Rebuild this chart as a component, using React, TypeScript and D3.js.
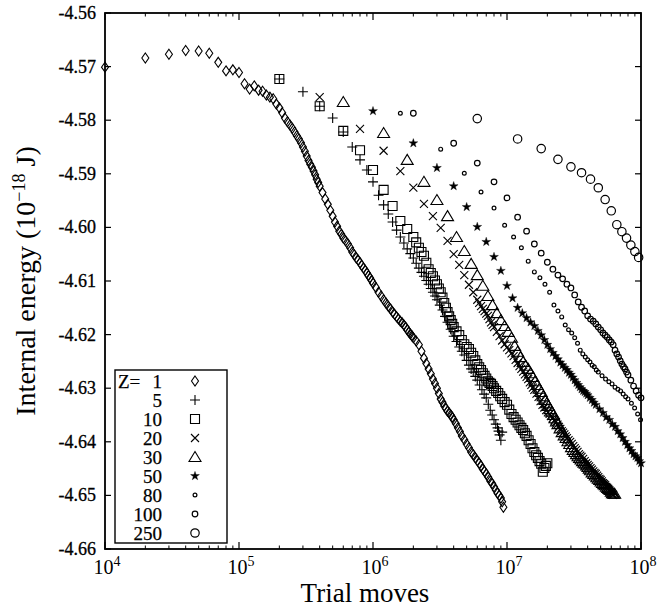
import React from "react";
import * as d3 from "d3";

// ---------- data (trial moves, internal energy in 1e-18 J) ----------
const zLabels = ["1", "5", "10", "20", "30", "50", "80", "100", "250"];
const xTickExps = [4, 5, 6, 7, 8];
const yTickValues = [-4.66, -4.65, -4.64, -4.63, -4.62, -4.61, -4.6, -4.59, -4.58, -4.57, -4.56];

const seriesZ1: [number, number][] = [
  [1e4, -4.5701], [2e4, -4.5684], [3e4, -4.5677], [4e4, -4.567], [5e4, -4.5671], [6e4, -4.5675],
  [7e4, -4.5692], [8e4, -4.5708], [9e4, -4.5706], [1e5, -4.5711], [1.1e5, -4.5732], [1.2e5, -4.5742],
  [1.3e5, -4.5736], [1.4e5, -4.5744], [1.5e5, -4.5746], [1.6e5, -4.5753], [1.7e5, -4.5757], [1.8e5, -4.576],
  [1.9e5, -4.577], [2e5, -4.5777], [2.2e5, -4.5796], [2.4e5, -4.5809], [2.6e5, -4.5822], [2.8e5, -4.5835],
  [3e5, -4.585], [3.2e5, -4.5867], [3.4e5, -4.5882], [3.6e5, -4.5895], [3.8e5, -4.591], [4e5, -4.5923],
  [4.4e5, -4.5947], [4.8e5, -4.5968], [5.2e5, -4.599], [5.6e5, -4.6007], [6e5, -4.602], [6.5e5, -4.6031],
  [7e5, -4.6046], [7.5e5, -4.6057], [8e5, -4.6066], [8.5e5, -4.6076], [9e5, -4.6085], [9.5e5, -4.6094],
  [1e6, -4.6104], [1.1e6, -4.6121], [1.2e6, -4.6135], [1.3e6, -4.6147], [1.4e6, -4.6158], [1.5e6, -4.6167],
  [1.6e6, -4.6175], [1.7e6, -4.6182], [1.8e6, -4.6191], [1.9e6, -4.6199], [2e6, -4.6206], [2.2e6, -4.6219],
  [2.4e6, -4.6244], [2.6e6, -4.6264], [2.8e6, -4.6283], [3e6, -4.63], [3.2e6, -4.632], [3.4e6, -4.6333],
  [3.6e6, -4.6343], [3.8e6, -4.635], [4e6, -4.6359], [4.3e6, -4.6374], [4.6e6, -4.6389], [5e6, -4.6404],
  [5.4e6, -4.6419], [5.8e6, -4.643], [6.2e6, -4.644], [6.6e6, -4.6451], [7e6, -4.646], [7.5e6, -4.6473],
  [8e6, -4.6484], [8.5e6, -4.6496], [9e6, -4.6505], [9.4e6, -4.6522],
  // denser readings along the band
  [2.1e5, -4.5786], [2.3e5, -4.5803], [2.5e5, -4.5815], [2.7e5, -4.5829], [2.9e5, -4.5842], [3.1e5, -4.5858],
  [3.3e5, -4.5875], [3.5e5, -4.5888], [3.7e5, -4.5902], [3.9e5, -4.5916], [4.2e5, -4.5935], [4.6e5, -4.5957],
  [5e5, -4.5979], [5.4e5, -4.5998], [5.8e5, -4.6013], [6.25e5, -4.6025], [6.75e5, -4.6038], [7.25e5, -4.6051],
  [7.75e5, -4.6061], [8.25e5, -4.6071], [8.75e5, -4.608], [9.25e5, -4.609], [9.75e5, -4.6099], [1.05e6, -4.6112],
  [1.15e6, -4.6128], [1.25e6, -4.6141], [1.35e6, -4.6152], [1.45e6, -4.6162], [1.55e6, -4.6171], [1.65e6, -4.6178],
  [1.75e6, -4.6186], [1.85e6, -4.6195], [1.95e6, -4.6202], [2.1e6, -4.6212], [2.3e6, -4.6231], [2.5e6, -4.6254],
  [2.7e6, -4.6273], [2.9e6, -4.6291], [3.1e6, -4.631], [3.3e6, -4.6326], [3.5e6, -4.6338], [3.7e6, -4.6346],
  [3.9e6, -4.6354], [4.15e6, -4.6366], [4.45e6, -4.6381], [4.8e6, -4.6396], [5.2e6, -4.6411], [5.6e6, -4.6424],
  [6e6, -4.6435], [6.4e6, -4.6445], [6.8e6, -4.6455], [7.25e6, -4.6466], [7.75e6, -4.6478], [8.25e6, -4.649],
  [8.75e6, -4.65], [9.2e6, -4.6512],
];

const seriesZ5: [number, number][] = [
  [2e5, -4.5723], [3e5, -4.5747], [4e5, -4.5774], [5e5, -4.5796], [6e5, -4.5822], [7e5, -4.585],
  [8e5, -4.5874], [9e5, -4.5893], [1e6, -4.5915], [1.1e6, -4.594], [1.2e6, -4.5958], [1.3e6, -4.5975],
  [1.4e6, -4.599], [1.5e6, -4.6005], [1.6e6, -4.6018], [1.8e6, -4.604], [2e6, -4.6057], [2.2e6, -4.6076],
  [2.4e6, -4.6091], [2.6e6, -4.6106], [2.8e6, -4.6121], [3e6, -4.6135], [3.3e6, -4.6154], [3.6e6, -4.6177],
  [4e6, -4.6203], [4.4e6, -4.6223], [4.8e6, -4.6238], [5.2e6, -4.6257], [5.6e6, -4.627], [6e6, -4.6285],
  [6.5e6, -4.6303], [7e6, -4.6318], [7.5e6, -4.6341], [8e6, -4.6359], [8.5e6, -4.6374], [8.8e6, -4.6387],
  [9e6, -4.6397], [9.2e6, -4.6382],
  [1.7e6, -4.6029], [1.9e6, -4.6049], [2.1e6, -4.6067], [2.3e6, -4.6084], [2.5e6, -4.6099], [2.7e6, -4.6114],
  [2.9e6, -4.6128], [3.15e6, -4.6145], [3.45e6, -4.6166], [3.8e6, -4.619], [4.2e6, -4.6213], [4.6e6, -4.6231],
  [5e6, -4.6248], [5.4e6, -4.6264], [5.8e6, -4.6278], [6.25e6, -4.6294], [6.75e6, -4.6311], [7.25e6, -4.633],
  [7.75e6, -4.635], [8.25e6, -4.6367], [8.65e6, -4.638],
];

const seriesZ10: [number, number][] = [
  [2e5, -4.5723], [4e5, -4.5774], [6e5, -4.582], [8e5, -4.5856], [1e6, -4.5893], [1.2e6, -4.593],
  [1.4e6, -4.596], [1.6e6, -4.5988], [1.8e6, -4.6003], [2e6, -4.6018], [2.2e6, -4.6038], [2.4e6, -4.6053],
  [2.6e6, -4.6078], [2.8e6, -4.6091], [3e6, -4.6106], [3.2e6, -4.6121], [3.4e6, -4.6141], [3.6e6, -4.6158],
  [3.8e6, -4.6173], [4e6, -4.6186], [4.4e6, -4.6201], [4.8e6, -4.6218], [5.2e6, -4.6227], [5.6e6, -4.624],
  [6e6, -4.6255], [6.4e6, -4.6266], [6.8e6, -4.6277], [7.2e6, -4.6287], [7.6e6, -4.6292], [8e6, -4.63],
  [8.6e6, -4.6309], [9.2e6, -4.632], [1e7, -4.6331], [1.08e7, -4.6348], [1.16e7, -4.6359], [1.24e7, -4.6369],
  [1.32e7, -4.6378], [1.4e7, -4.6389], [1.5e7, -4.6404], [1.6e7, -4.6419], [1.7e7, -4.643], [1.8e7, -4.6441],
  [1.9e7, -4.6449], [2e7, -4.644], [1.85e7, -4.6456],
  [2.1e6, -4.6028], [2.3e6, -4.6046], [2.5e6, -4.6066], [2.7e6, -4.6085], [2.9e6, -4.6099], [3.1e6, -4.6114],
  [3.3e6, -4.6131], [3.5e6, -4.615], [3.7e6, -4.6166], [3.9e6, -4.618], [4.2e6, -4.6194], [4.6e6, -4.621],
  [5e6, -4.6223], [5.4e6, -4.6234], [5.8e6, -4.6248], [6.2e6, -4.6261], [6.6e6, -4.6272], [7e6, -4.6282],
  [7.4e6, -4.629], [7.8e6, -4.6296], [8.3e6, -4.6305], [8.9e6, -4.6315], [9.6e6, -4.6326], [1.04e7, -4.634],
  [1.12e7, -4.6354], [1.2e7, -4.6364], [1.28e7, -4.6374], [1.36e7, -4.6384], [1.45e7, -4.6397], [1.55e7, -4.6412],
  [1.65e7, -4.6425], [1.75e7, -4.6436], [1.95e7, -4.6445],
];

const seriesZ20: [number, number][] = [
  [4e5, -4.5757], [8e5, -4.5816], [1.2e6, -4.5857], [1.6e6, -4.5895], [2e6, -4.5926], [2.4e6, -4.5956],
  [2.8e6, -4.5979], [3.2e6, -4.6001], [3.6e6, -4.6025], [4e6, -4.605], [4.4e6, -4.607], [4.8e6, -4.6089],
  [5.2e6, -4.6107], [5.6e6, -4.6121], [6e6, -4.6135], [6.4e6, -4.6147], [6.8e6, -4.6156], [7.2e6, -4.6165],
  [7.6e6, -4.6177], [8e6, -4.6186], [8.8e6, -4.6203], [9.6e6, -4.6218], [1.04e7, -4.6229], [1.12e7, -4.624],
  [1.2e7, -4.6253], [1.28e7, -4.6264], [1.36e7, -4.6274], [1.44e7, -4.6283], [1.52e7, -4.6294], [1.6e7, -4.6303],
  [1.72e7, -4.6316], [1.84e7, -4.6331], [1.96e7, -4.6341], [2.08e7, -4.6348], [2.2e7, -4.6356], [2.32e7, -4.6363],
  [2.44e7, -4.6372], [2.56e7, -4.638], [2.68e7, -4.6386], [2.8e7, -4.6393], [2.96e7, -4.64], [3.12e7, -4.6408],
  [3.28e7, -4.6415], [3.44e7, -4.6423], [3.6e7, -4.6428], [3.8e7, -4.6436], [4e7, -4.6443], [4.2e7, -4.6449],
  [4.4e7, -4.6455], [4.6e7, -4.646], [4.8e7, -4.6466], [5e7, -4.6471], [5.2e7, -4.6477], [5.4e7, -4.6481],
  [5.6e7, -4.6486], [5.8e7, -4.649], [6e7, -4.6496], [6.2e7, -4.6499],
  [6.2e6, -4.6141], [6.6e6, -4.6152], [7e6, -4.6161], [7.4e6, -4.6171], [7.8e6, -4.6182], [8.4e6, -4.6195],
  [9.2e6, -4.6211], [1e7, -4.6224], [1.08e7, -4.6235], [1.16e7, -4.6247], [1.24e7, -4.6259], [1.32e7, -4.6269],
  [1.4e7, -4.6279], [1.48e7, -4.6289], [1.56e7, -4.6299], [1.66e7, -4.631], [1.78e7, -4.6324], [1.9e7, -4.6336],
  [2.02e7, -4.6345], [2.14e7, -4.6352], [2.26e7, -4.636], [2.38e7, -4.6368], [2.5e7, -4.6376], [2.62e7, -4.6383],
  [2.74e7, -4.639], [2.88e7, -4.6397], [3.04e7, -4.6404], [3.2e7, -4.6412], [3.36e7, -4.6419], [3.52e7, -4.6426],
  [3.7e7, -4.6432], [3.9e7, -4.644], [4.1e7, -4.6446], [4.3e7, -4.6452], [4.5e7, -4.6458], [4.7e7, -4.6463],
  [4.9e7, -4.6469], [5.1e7, -4.6474], [5.3e7, -4.6479], [5.5e7, -4.6484], [5.7e7, -4.6488], [5.9e7, -4.6493],
  [6.1e7, -4.6498],
];

const seriesZ30: [number, number][] = [
  [6e5, -4.5766], [1.2e6, -4.5824], [1.8e6, -4.5874], [2.4e6, -4.5915], [3e6, -4.5949], [3.6e6, -4.5979],
  [4.2e6, -4.6018], [4.8e6, -4.6044], [5.4e6, -4.6068], [6e6, -4.6089], [6.6e6, -4.6109], [7.2e6, -4.6128],
  [7.8e6, -4.6145], [8.4e6, -4.616], [9e6, -4.6173], [9.6e6, -4.6184], [1.02e7, -4.6195], [1.08e7, -4.6206],
  [1.14e7, -4.6221], [1.2e7, -4.6232], [1.32e7, -4.6251], [1.44e7, -4.6264], [1.56e7, -4.6279], [1.68e7, -4.6294],
  [1.8e7, -4.6307], [1.92e7, -4.6322], [2.04e7, -4.6333], [2.16e7, -4.6344], [2.28e7, -4.6356], [2.4e7, -4.6367],
  [2.58e7, -4.6382], [2.76e7, -4.6393], [2.94e7, -4.6404], [3.12e7, -4.6415], [3.3e7, -4.6423], [3.48e7, -4.643],
  [3.66e7, -4.6436], [3.84e7, -4.6441], [4.02e7, -4.6447], [4.2e7, -4.6453], [4.44e7, -4.646], [4.68e7, -4.6466],
  [4.92e7, -4.6471], [5.16e7, -4.6477], [5.4e7, -4.6481], [5.64e7, -4.6486], [5.88e7, -4.649], [6.12e7, -4.6496],
  [6.36e7, -4.6497],
  [1.26e7, -4.6242], [1.38e7, -4.6258], [1.5e7, -4.6272], [1.62e7, -4.6287], [1.74e7, -4.6301], [1.86e7, -4.6315],
  [1.98e7, -4.6328], [2.1e7, -4.6339], [2.22e7, -4.635], [2.34e7, -4.6362], [2.49e7, -4.6375], [2.67e7, -4.6388],
  [2.85e7, -4.6399], [3.03e7, -4.641], [3.21e7, -4.6419], [3.39e7, -4.6427], [3.57e7, -4.6433], [3.75e7, -4.6439],
  [3.93e7, -4.6444], [4.11e7, -4.645], [4.32e7, -4.6457], [4.56e7, -4.6463], [4.8e7, -4.6469], [5.04e7, -4.6474],
  [5.28e7, -4.6479], [5.52e7, -4.6484], [5.76e7, -4.6488], [6e7, -4.6493], [6.24e7, -4.6497],
];

const seriesZ50: [number, number][] = [
  [1e6, -4.5783], [2e6, -4.5843], [3e6, -4.5889], [4e6, -4.5923], [5e6, -4.5962], [6e6, -4.5999],
  [7e6, -4.6027], [8e6, -4.6055], [9e6, -4.6081], [1e7, -4.6109], [1.1e7, -4.6132], [1.2e7, -4.615],
  [1.3e7, -4.616], [1.4e7, -4.6169], [1.5e7, -4.6177], [1.6e7, -4.6184], [1.7e7, -4.6193], [1.8e7, -4.6201],
  [1.9e7, -4.621], [2e7, -4.6219], [2.2e7, -4.6234], [2.4e7, -4.6246], [2.6e7, -4.6257], [2.8e7, -4.6266],
  [3e7, -4.6275], [3.2e7, -4.6285], [3.4e7, -4.6294], [3.6e7, -4.6302], [3.8e7, -4.6307], [4e7, -4.6313],
  [4.3e7, -4.6322], [4.6e7, -4.6331], [4.9e7, -4.6339], [5.2e7, -4.6346], [5.5e7, -4.6354], [5.8e7, -4.6359],
  [6.1e7, -4.6367], [6.4e7, -4.6372], [6.7e7, -4.638], [7e7, -4.6386], [7.3e7, -4.6393], [7.6e7, -4.64],
  [7.9e7, -4.6406], [8.2e7, -4.6412], [8.5e7, -4.6417], [8.8e7, -4.6423], [9.1e7, -4.6427], [9.4e7, -4.643],
  [9.7e7, -4.6436], [1e8, -4.644],
  [2.1e7, -4.6227], [2.3e7, -4.624], [2.5e7, -4.6252], [2.7e7, -4.6262], [2.9e7, -4.6271], [3.1e7, -4.628],
  [3.3e7, -4.629], [3.5e7, -4.6298], [3.7e7, -4.6305], [3.9e7, -4.631], [4.15e7, -4.6318], [4.45e7, -4.6327],
];

const seriesZ80: [number, number][] = [
  [1.6e6, -4.5787], [3.2e6, -4.5854], [4.8e6, -4.5899], [6.4e6, -4.5934], [8e6, -4.5964], [9.6e6, -4.5996],
  [1.12e7, -4.6018], [1.28e7, -4.6038], [1.44e7, -4.6063], [1.6e7, -4.6083], [1.76e7, -4.6094], [1.92e7, -4.6106],
  [2.08e7, -4.6121], [2.24e7, -4.6145], [2.4e7, -4.6156], [2.56e7, -4.6167], [2.72e7, -4.6182], [2.88e7, -4.6191],
  [3.04e7, -4.6197], [3.2e7, -4.6206], [3.36e7, -4.6216], [3.52e7, -4.6229], [3.68e7, -4.6236], [3.84e7, -4.6242],
  [4e7, -4.6247], [4.16e7, -4.6251], [4.32e7, -4.6257], [4.48e7, -4.626], [4.64e7, -4.6266], [4.8e7, -4.627],
  [5.12e7, -4.6277], [5.44e7, -4.6283], [5.76e7, -4.6288], [6.08e7, -4.6292], [6.4e7, -4.6298], [6.72e7, -4.6302],
  [7.04e7, -4.6305], [7.36e7, -4.6311], [7.68e7, -4.6316], [8e7, -4.632], [8.48e7, -4.6328], [8.96e7, -4.6337],
  [9.44e7, -4.6348], [9.92e7, -4.6359],
];

const seriesZ100: [number, number][] = [
  [2e6, -4.5787], [4e6, -4.5843], [6e6, -4.588], [8e6, -4.5915], [1e7, -4.5945], [1.2e7, -4.5981],
  [1.4e7, -4.6007], [1.6e7, -4.6031], [1.8e7, -4.6048], [2e7, -4.6065], [2.2e7, -4.6078], [2.4e7, -4.6089],
  [2.6e7, -4.6096], [2.8e7, -4.6106], [3e7, -4.6113], [3.2e7, -4.6126], [3.4e7, -4.6139], [3.6e7, -4.6149],
  [3.8e7, -4.6156], [4e7, -4.6165], [4.2e7, -4.6171], [4.4e7, -4.6175], [4.6e7, -4.618], [4.8e7, -4.6186],
  [5e7, -4.6191], [5.2e7, -4.6197], [5.4e7, -4.6201], [5.6e7, -4.6205], [5.8e7, -4.621], [6e7, -4.6214],
  [6.2e7, -4.6219], [6.4e7, -4.6229], [6.6e7, -4.6236], [6.8e7, -4.6242], [7e7, -4.6249], [7.2e7, -4.6255],
  [7.4e7, -4.626], [7.6e7, -4.6264], [7.8e7, -4.627], [8e7, -4.6275], [8.4e7, -4.6285], [8.8e7, -4.6296],
  [9.2e7, -4.6305], [9.6e7, -4.6313], [1e8, -4.6318],
];

const seriesZ250: [number, number][] = [
  [6e6, -4.5797], [1.2e7, -4.5835], [1.8e7, -4.5853], [2.4e7, -4.5873], [3e7, -4.5887], [3.6e7, -4.5898],
  [4.2e7, -4.591], [4.8e7, -4.5926], [5.4e7, -4.5948], [6e7, -4.5969], [6.6e7, -4.5995], [7.2e7, -4.6008],
  [7.8e7, -4.602], [8.4e7, -4.6033], [9e7, -4.6045], [9.6e7, -4.6056],
];

const allSeries = [seriesZ1, seriesZ5, seriesZ10, seriesZ20, seriesZ30, seriesZ50, seriesZ80, seriesZ100, seriesZ250];

// ---------- styling ----------
const W = 671;
const H = 609;
const M = { left: 105, right: 30, top: 13, bottom: 60 };
const starPath = d3.symbol(d3.symbolStar, 24)() as string;

type MarkerStyle = { kind: "path"; d: string; fill: boolean } | { kind: "circle"; r: number };
const markers: MarkerStyle[] = [
  { kind: "path", d: "M0,-5L3.5,0L0,5L-3.5,0Z", fill: false },
  { kind: "path", d: "M-5,0H5M0,-5V5", fill: false },
  { kind: "path", d: "M-4.5,-4.5H4.5V4.5H-4.5Z", fill: false },
  { kind: "path", d: "M-4,-4L4,4M-4,4L4,-4", fill: false },
  { kind: "path", d: "M0,-5.5L6,4.5L-6,4.5Z", fill: false },
  { kind: "path", d: starPath, fill: true },
  { kind: "circle", r: 1.9 },
  { kind: "circle", r: 2.8 },
  { kind: "circle", r: 4.2 },
];

function Marker({ m, x, y }: { m: MarkerStyle; x: number; y: number }) {
  if (m.kind === "circle") {
    return <circle cx={x} cy={y} r={m.r} fill="none" stroke="#000" strokeWidth={1.2} />;
  }
  return (
    <path
      d={m.d}
      transform={`translate(${x},${y})`}
      fill={m.fill ? "#000" : "none"}
      stroke="#000"
      strokeWidth={m.fill ? 0.4 : 1.1}
    />
  );
}

export default function App() {
  const x = d3.scaleLog().domain([1e4, 1e8]).range([M.left, W - M.right]);
  const y = d3.scaleLinear().domain([-4.66, -4.56]).range([H - M.bottom, M.top]);
  const [x0, x1] = x.range();
  const [yB, yT] = y.range();

  const minorTicks: number[] = [];
  for (let e = 4; e < 8; e++) for (let k = 2; k <= 9; k++) minorTicks.push(k * Math.pow(10, e));

  const serifTick = "'Liberation Serif', 'Times New Roman', serif";
  const fmt = d3.format(".2f");

  const legX = 115, legY = 370, legW = 112, legH = 173;
  const rowH = 19;

  return (
    <svg width={W} height={H} style={{ position: "absolute", left: 0, top: 0, background: "#fff" }}>
      <rect width={W} height={H} fill="#fff" />
      {/* data */}
      {allSeries.map((s, i) => (
        <g key={i}>
          {s.map(([vx, vy], j) => (
            <Marker key={j} m={markers[i]} x={x(vx)} y={y(vy)} />
          ))}
        </g>
      ))}

      {/* frame */}
      <rect x={x0} y={yT} width={x1 - x0} height={yB - yT} fill="none" stroke="#000" strokeWidth={1.8} />

      {/* x ticks */}
      {xTickExps.map((e) => {
        const px = x(Math.pow(10, e));
        return (
          <g key={e}>
            <line x1={px} x2={px} y1={yB} y2={yB - 7} stroke="#000" strokeWidth={1.2} />
            <line x1={px} x2={px} y1={yT} y2={yT + 7} stroke="#000" strokeWidth={1.2} />
            <text x={px + 2} y={yB + 25} textAnchor="middle" fontFamily={serifTick} fontSize={20} fill="#000">
              <tspan>10</tspan>
              <tspan dy={-8} fontSize={14}>{e}</tspan>
            </text>
          </g>
        );
      })}
      {minorTicks.map((v, i) => {
        const px = x(v);
        return (
          <g key={"m" + i}>
            <line x1={px} x2={px} y1={yB} y2={yB - 3.5} stroke="#000" strokeWidth={1} />
            <line x1={px} x2={px} y1={yT} y2={yT + 3.5} stroke="#000" strokeWidth={1} />
          </g>
        );
      })}

      {/* y ticks */}
      {yTickValues.map((v) => {
        const py = y(v);
        return (
          <g key={v}>
            <line x1={x0} x2={x0 + 6} y1={py} y2={py} stroke="#000" strokeWidth={1.2} />
            <line x1={x1} x2={x1 - 6} y1={py} y2={py} stroke="#000" strokeWidth={1.2} />
            <text x={x0 - 9} y={py + 6} textAnchor="end" fontFamily={serifTick} fontSize={18} fill="#000"
              stroke="#000" strokeWidth={0.3}>
              {fmt(v).replace("\u2212", "-")}
            </text>
          </g>
        );
      })}

      {/* axis titles */}
      <text x={365} y={602} textAnchor="middle" fontFamily={serifTick} fontSize={27} fill="#000">
        Trial moves
      </text>
      <text transform={`translate(35,${(yT + yB) / 2}) rotate(-90)`} textAnchor="middle" fontFamily={serifTick}
        fontSize={28} fill="#000">
        <tspan>Internal energy (10</tspan>
        <tspan dy={-10} fontSize={18}>{"\u221218"}</tspan>
        <tspan dy={10}> J)</tspan>
      </text>

      {/* legend */}
      <rect x={legX} y={legY} width={legW} height={legH} fill="#fff" stroke="#000" strokeWidth={1.4} />
      <text x={118} y={legY + 11 + 7} fontFamily={serifTick} fontSize={19} fill="#000" stroke="#000" strokeWidth={0.25}>
        Z=
      </text>
      {zLabels.map((lab, i) => {
        const cy = legY + 11 + i * rowH;
        return (
          <g key={lab}>
            <text x={162} y={cy + 7} textAnchor="end" fontFamily={serifTick} fontSize={19} fill="#000"
              stroke="#000" strokeWidth={0.25}>
              {lab}
            </text>
            <Marker m={markers[i]} x={195} y={cy} />
          </g>
        );
      })}
    </svg>
  );
}
